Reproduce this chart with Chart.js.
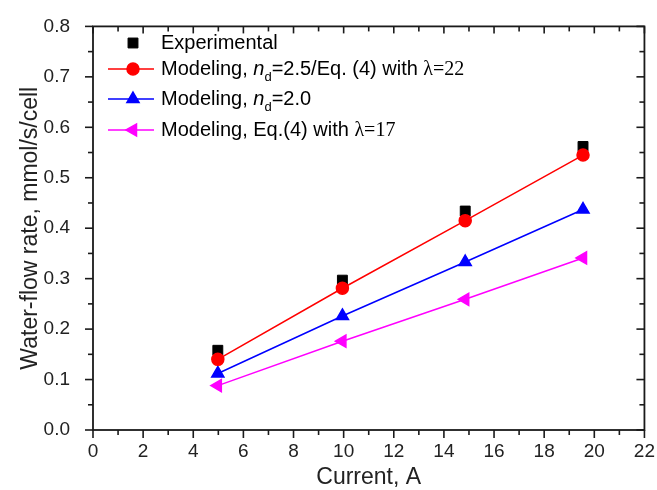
<!DOCTYPE html>
<html><head><meta charset="utf-8">
<script src="https://cdn.jsdelivr.net/npm/chart.js@4/dist/chart.umd.min.js"></script>
<style>html,body{margin:0;padding:0;background:#fff;}#wrap{width:657px;height:490px;}</style>
</head><body><div id="wrap"><canvas id="c" width="657" height="490"></canvas></div>
<script>
// ---- data ----
const currents      = [4.98, 9.95, 14.85, 19.55];
const experimental  = [0.158, 0.297, 0.434, 0.562];
const modelNd25     = [0.140, 0.281, 0.415, 0.545];
const modelNd20     = [0.112, 0.226, 0.333, 0.437];
const modelEq17     = [0.088, 0.176, 0.259, 0.341];
const xRange = [0, 22];
const yRange = [0, 0.8];

const pts = (ys) => currents.map((x, i) => ({x: x, y: ys[i]}));

const SANS = "'Liberation Sans', Arial, sans-serif";
const SERIF = "'Liberation Serif', 'Times New Roman', serif";
const AXIS = '#1a1a1a';

const framePlugin = {
  id: 'frame',
  beforeDatasetsDraw(chart) {
    const ctx = chart.ctx, xs = chart.scales.x, ys = chart.scales.y;
    const {left, right, top, bottom} = chart.chartArea;
    ctx.save();
    ctx.strokeStyle = AXIS;
    ctx.lineWidth = 1.8;
    ctx.strokeRect(left, top, right - left, bottom - top);
    ctx.lineWidth = 1.6;
    const line = (a, b, c, d) => { ctx.beginPath(); ctx.moveTo(a, b); ctx.lineTo(c, d); ctx.stroke(); };
    for (let v = xs.min; v <= xs.max + 1e-9; v += 1) {
      const px = xs.getPixelForValue(v);
      const major = Math.round(v) % 2 === 0;
      line(px, bottom, px, bottom + (major ? 8 : 5));
      line(px, top, px, top + (major ? 7 : 5));
    }
    for (let k = 0; k <= Math.round((ys.max - ys.min) / 0.05); k++) {
      const v = ys.min + k * 0.05;
      const py = ys.getPixelForValue(v);
      const major = k % 2 === 0;
      line(left, py, left - (major ? 8 : 5), py);
      line(right, py, right - (major ? 8 : 5), py);
    }
    ctx.restore();
  }
};

const legendRows = [
  {style: 'rect', radius: 7, rot: 0, color: '#000', line: false,
   parts: [{t: 'Experimental'}]},
  {style: 'circle', radius: 6, rot: 0, color: '#ff0000', line: true,
   parts: [{t: 'Modeling, '}, {t: 'n', it: true}, {t: 'd', sub: true}, {t: '=2.5/Eq. (4) with '}, {t: '\u03bb=22', serif: true}]},
  {style: 'triangle', radius: 7, rot: 0, color: '#0000ff', line: true,
   parts: [{t: 'Modeling, '}, {t: 'n', it: true}, {t: 'd', sub: true}, {t: '=2.0'}]},
  {style: 'triangle', radius: 7, rot: -90, color: '#ff00ff', line: true,
   parts: [{t: 'Modeling, Eq.(4) with '}, {t: '\u03bb=17', serif: true}]}
];
const legendRowY = [43, 69, 99, 130];

const legendPlugin = {
  id: 'richLegend',
  afterDraw(chart) {
    const ctx = chart.ctx;
    const left = chart.chartArea.left;
    ctx.save();
    legendRows.forEach((r, i) => {
      const y = legendRowY[i];
      const cx = left + 40;
      if (r.line) {
        ctx.strokeStyle = r.color; ctx.lineWidth = 1.5;
        ctx.beginPath(); ctx.moveTo(left + 15, y); ctx.lineTo(left + 61, y); ctx.stroke();
      }
      ctx.fillStyle = r.color; ctx.strokeStyle = r.color;
      Chart.helpers.drawPoint(ctx, {pointStyle: r.style, radius: r.radius, rotation: r.rot, borderWidth: 1}, cx, y);
      let x = left + 68;
      ctx.fillStyle = '#000';
      ctx.textBaseline = 'middle';
      ctx.textAlign = 'left';
      r.parts.forEach(p => {
        let font = '20px ' + SANS, dy = 0;
        if (p.it) font = 'italic 20px ' + SANS;
        if (p.sub) { font = '13px ' + SANS; dy = 8; }
        if (p.serif) { font = '20px ' + SERIF; dy = 1; }
        ctx.font = font;
        ctx.fillText(p.t, x, y + dy);
        x += ctx.measureText(p.t).width;
      });
    });
    ctx.restore();
  }
};

new Chart(document.getElementById('c'), {
  type: 'line',
  data: {
    datasets: [
      {label: 'Experimental', data: pts(experimental), showLine: false, order: 4,
       pointStyle: 'rect', pointRadius: 7, pointBackgroundColor: '#000', pointBorderColor: '#000', borderColor: '#000'},
      {label: 'Modeling, nd=2.5/Eq. (4) with \u03bb=22', data: pts(modelNd25), order: 1,
       borderColor: '#ff0000', borderWidth: 1.5, pointStyle: 'circle', pointRadius: 6,
       pointBackgroundColor: '#ff0000', pointBorderColor: '#ff0000'},
      {label: 'Modeling, nd=2.0', data: pts(modelNd20), order: 2,
       borderColor: '#0000ff', borderWidth: 1.5, pointStyle: 'triangle', pointRadius: 7,
       pointBackgroundColor: '#0000ff', pointBorderColor: '#0000ff'},
      {label: 'Modeling, Eq.(4) with \u03bb=17', data: pts(modelEq17), order: 3,
       borderColor: '#ff00ff', borderWidth: 1.5, pointStyle: 'triangle', pointRotation: -90, pointRadius: 7,
       pointBackgroundColor: '#ff00ff', pointBorderColor: '#ff00ff'}
    ]
  },
  options: {
    responsive: false,
    animation: false,
    devicePixelRatio: 1,
    layout: {padding: {left: 0, right: 11, top: 19, bottom: 0}},
    plugins: {legend: {display: false}, tooltip: {enabled: false}},
    elements: {line: {tension: 0}, point: {borderWidth: 1}},
    scales: {
      x: {
        type: 'linear', min: xRange[0], max: xRange[1],
        grid: {display: false}, border: {display: false},
        ticks: {stepSize: 2, color: '#222', font: {family: SANS, size: 19}, padding: 2, maxRotation: 0},
        title: {display: true, text: 'Current, A', color: '#222', font: {family: SANS, size: 23}, padding: {top: 0, bottom: -1}},
        afterFit(s) { s.height = 60; }
      },
      y: {
        type: 'linear', min: yRange[0], max: yRange[1],
        grid: {display: false}, border: {display: false},
        ticks: {stepSize: 0.1, color: '#222', font: {family: SANS, size: 19}, padding: 15,
                callback: (v) => Number(v).toFixed(1)},
        title: {display: true, text: 'Water-flow rate, mmol/s/cell', color: '#222', font: {family: SANS, size: 23}, padding: {top: 17, bottom: 0}},
        afterFit(s) { s.width = 93; }
      }
    }
  },
  plugins: [framePlugin, legendPlugin]
});
</script>
</body></html>
